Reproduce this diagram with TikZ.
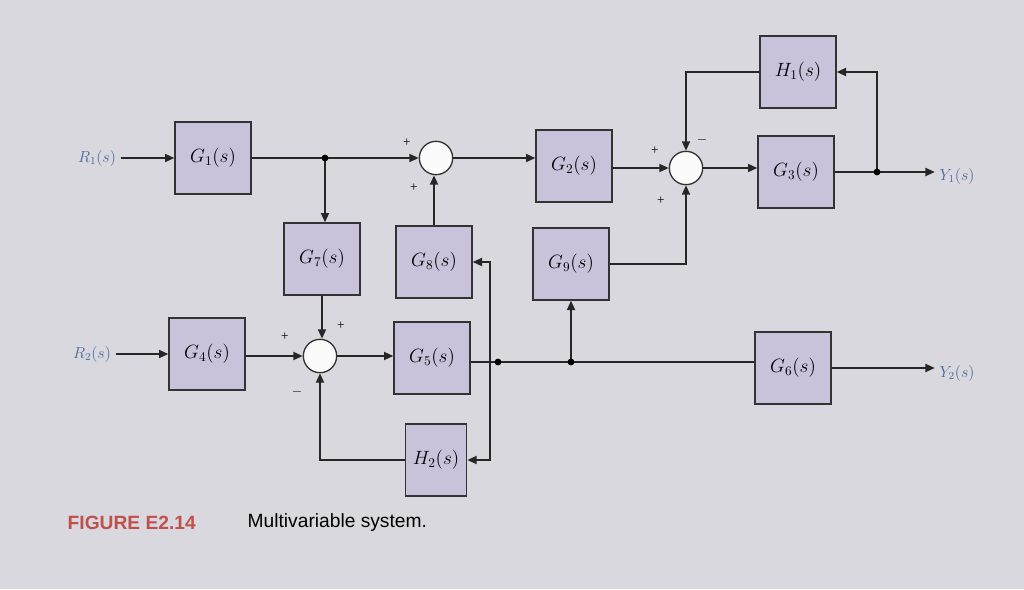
\documentclass[tikz,border=0pt]{standalone}
\usepackage{fontspec}
\setmainfont{Liberation Serif}
\newfontfamily\capfont{Liberation Sans}
\usetikzlibrary{arrows.meta}
\definecolor{bg}{HTML}{D8D8DE}
\definecolor{boxc}{HTML}{C8C2DA}
\definecolor{capred}{HTML}{C0504D}
\definecolor{lbl}{HTML}{4A6A9A}
\begin{document}
\begin{tikzpicture}[x=0.75pt,y=-0.75pt,
 blk/.style={draw=black!80,line width=1pt,fill=boxc,minimum width=57pt,minimum height=54pt,inner sep=0pt,font=\Large},
 sumj/.style={draw=black!80,line width=1pt,fill=white!90!bg,circle,minimum size=25pt,inner sep=0pt},
 ln/.style={line width=1.3pt,black!85},
 ar/.style={ln,-{Triangle[length=7pt,width=6pt]}},
 dotp/.style={circle,fill=black,inner sep=1.8pt},
 sg/.style={font=\normalsize}]
\fill[bg] (0,0) rectangle (1024,589);
\useasboundingbox (0,0) rectangle (1024,589);
\node[blk] (G1) at (213,158) {$G_1(s)$};
\node[blk] (G2) at (574,166) {$G_2(s)$};
\node[blk] (H1) at (798,72) {$H_1(s)$};
\node[blk] (G3) at (796,172) {$G_3(s)$};
\node[blk] (G7) at (322,259) {$G_7(s)$};
\node[blk] (G8) at (434,262) {$G_8(s)$};
\node[blk] (G9) at (571,264) {$G_9(s)$};
\node[blk] (G4) at (207,354) {$G_4(s)$};
\node[blk] (G5) at (432,358) {$G_5(s)$};
\node[blk] (G6) at (793,368) {$G_6(s)$};
\node[blk,minimum width=46pt] (H2) at (436,460) {$H_2(s)$};
\node[sumj] (S1) at (436,158) {};
\node[sumj] (S2) at (686,168) {};
\node[sumj] (S3) at (320,356) {};
\node[text=lbl,font=\large] (R1) at (97,158) {$R_1(s)$};
\node[text=lbl,font=\large] (R2) at (92,354) {$R_2(s)$};
\node[text=lbl,font=\large] (Y1) at (957,176) {$Y_1(s)$};
\node[text=lbl,font=\large] (Y2) at (957,373) {$Y_2(s)$};
\coordinate (b1) at (325,158);
\coordinate (b2) at (877,172);
\coordinate (b3) at (498,362);
\coordinate (b4) at (571,362);
\draw[ar] (R1) -- (G1);
\draw[ar] (R2) -- (G4);
\draw[ar] (G1.east |- S1) -- (S1);
\draw[ar] (b1) -- (b1 |- G7.north);
\draw[ar] (S1) -- (G2.west |- S1.east) ;
\draw[ar] (G2.east |- S2) -- (S2);
\draw[ar] (S2) -- (G3.west |- S2);
\draw[ar] (G3.east |- b2) -- (Y1.west |- b2);
\draw[ar] (b2) |- (H1.east);
\draw[ar] (H1.west) -| (S2.north);
\draw[ar] (G9.east) -| (S2.south);
\draw[ar] (G8.north) -- (G8.north |- S1.south);
\draw[ar] (G7.south) -- (S3.north -| G7.south);
\draw[ar] (G4.east |- S3) -- (S3);
\draw[ar] (H2.west) -| (S3.south);
\draw[ar] (S3) -- (G5.west |- S3);
\draw[ln] (G5.east |- b3) -- (G6.west |- b3);
\draw[ar] (b4) -- (G9.south);
\draw[ln] (G5.east |- b3) -- (490,362);
\draw[ar] (490,362) |- (G8.east);
\draw[ar] (490,362) |- (H2.east);
\draw[ar] (G6.east) -- (Y2.west |- G6.east);
\node[dotp] at (b1) {};
\node[dotp] at (b2) {};
\node[dotp] at (b3) {};
\node[dotp] at (b4) {};
\node[sg] at (407,143) {+};
\node[sg] at (414,188) {+};
\node[sg] at (655,151) {+};
\node[sg] at (702,140) {$-$};
\node[sg] at (661,201) {+};
\node[sg] at (285,337) {+};
\node[sg] at (341,326) {+};
\node[sg] at (297,392) {$-$};
\node[anchor=west,font=\capfont\bfseries\Large,text=capred] (cap) at (63,523) {FIGURE E2.14};
\node[anchor=west,font=\capfont\Large] (cap2) at (243,523) {Multivariable system.};
\end{tikzpicture}
\end{document}
